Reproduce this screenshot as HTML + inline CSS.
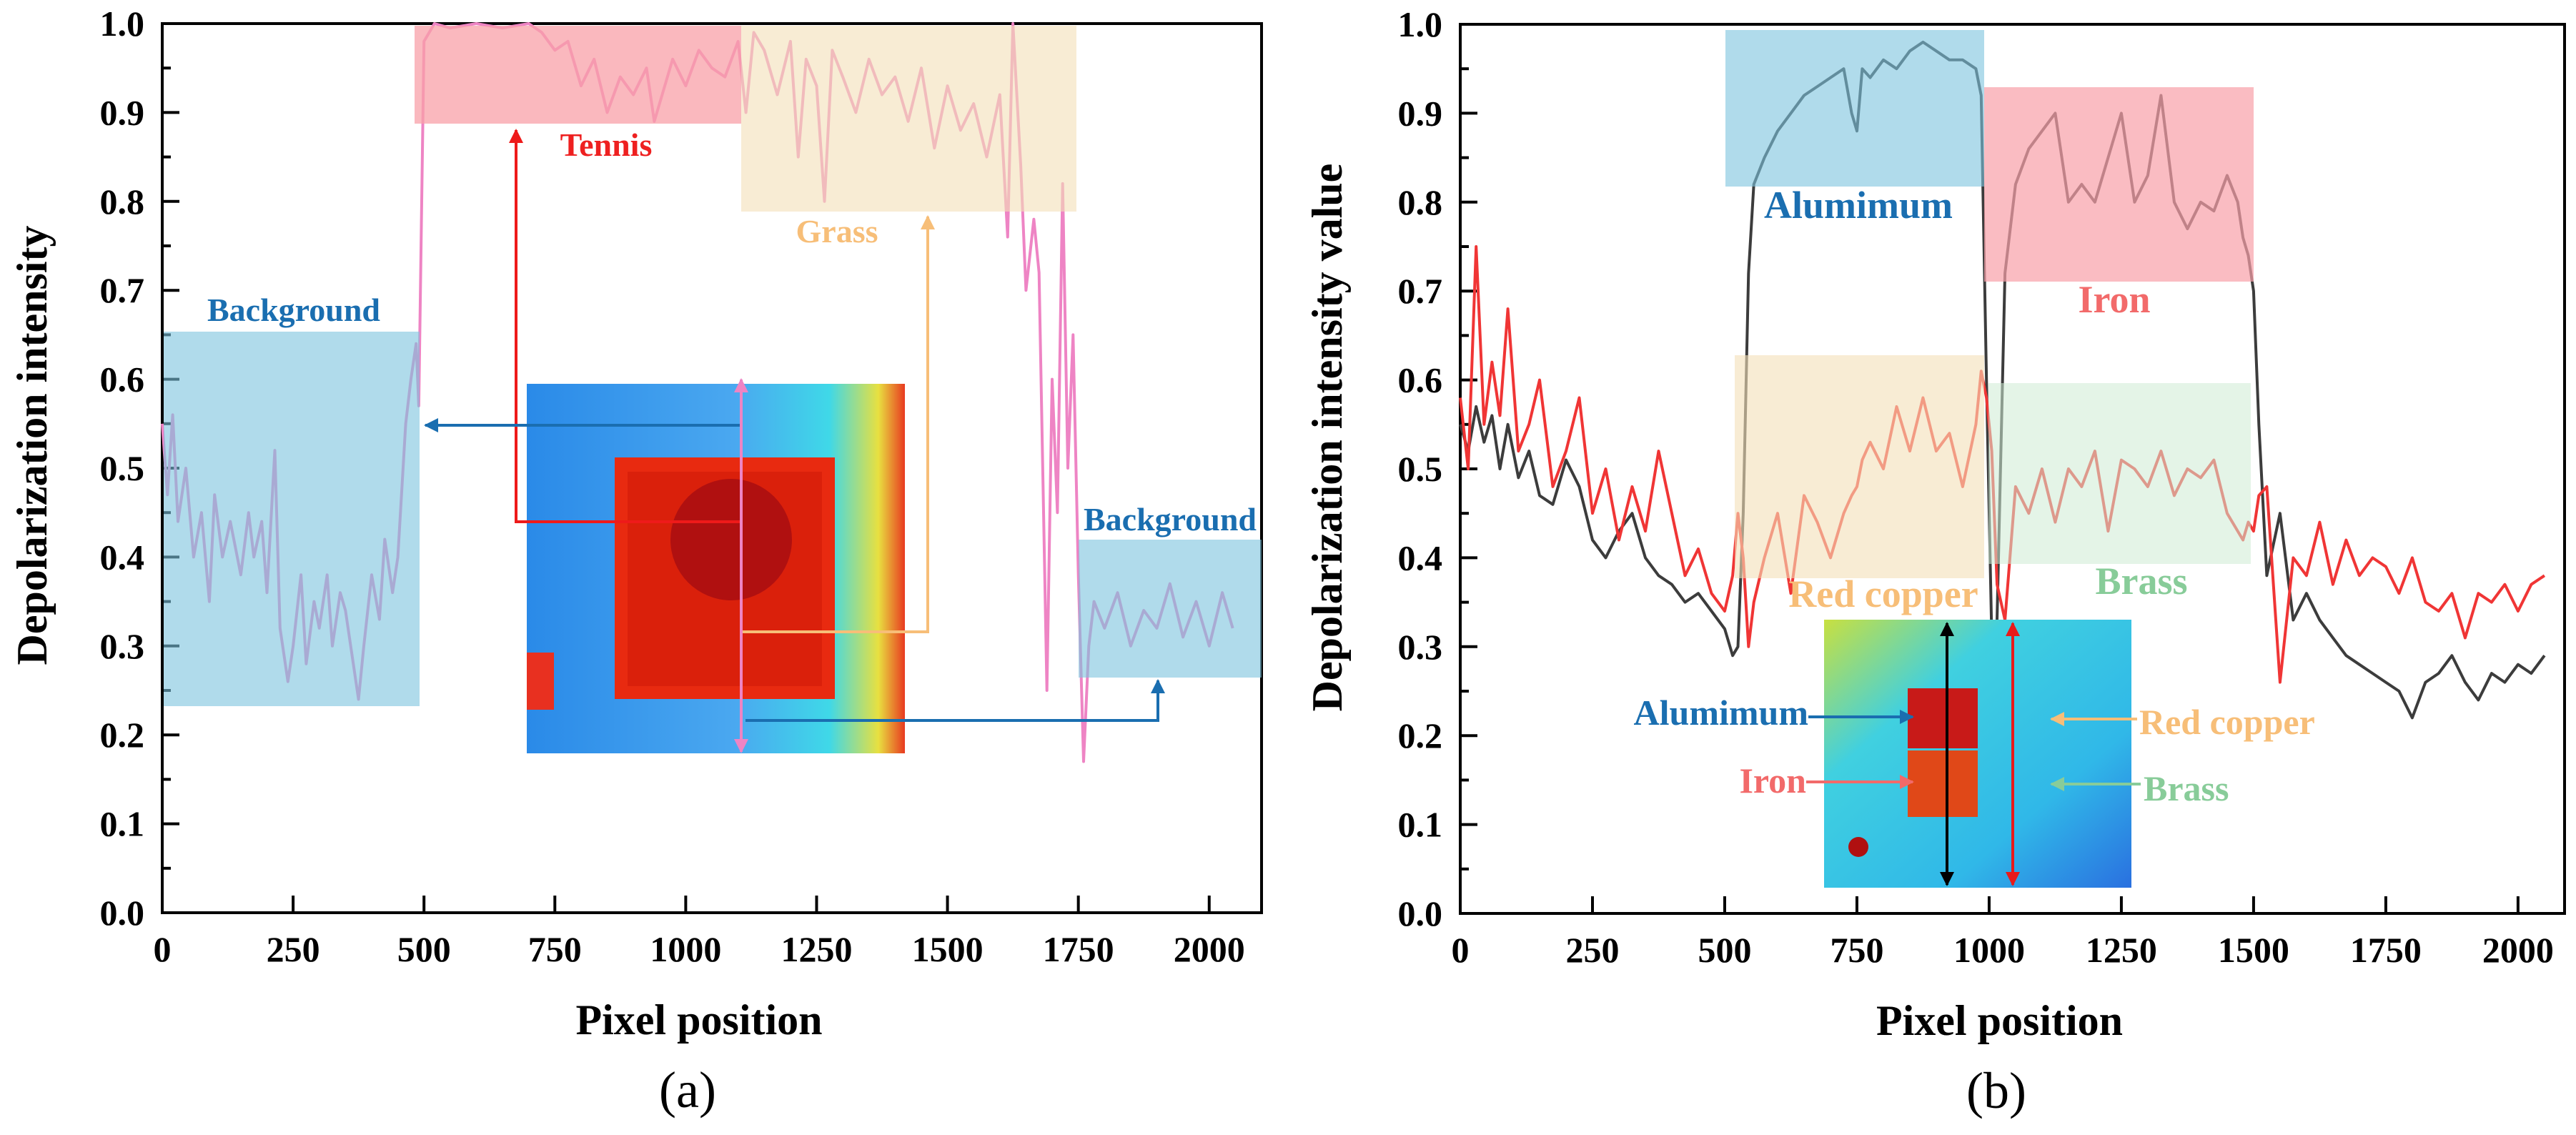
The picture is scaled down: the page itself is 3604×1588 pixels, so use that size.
<!DOCTYPE html>
<html><head><meta charset="utf-8"><style>
html,body{margin:0;padding:0;background:#fff;overflow:hidden;}
svg{display:block;}
text{font-family:"Liberation Serif",serif;}
</style></head><body>
<svg id="fig" width="3604" height="1588" viewBox="0 0 3604 1588" xmlns="http://www.w3.org/2000/svg">
<defs>
<linearGradient id="insA" x1="0" x2="1" y1="0" y2="0">
<stop offset="0" stop-color="#2a8ae8"/><stop offset="0.55" stop-color="#4aa8f0"/><stop offset="0.8" stop-color="#3fd8e8"/><stop offset="0.93" stop-color="#e8e040"/><stop offset="1" stop-color="#e83a20"/>
</linearGradient>
<linearGradient id="insB" x1="0" x2="1" y1="0" y2="1">
<stop offset="0" stop-color="#c8e040"/><stop offset="0.3" stop-color="#40d0e0"/><stop offset="0.7" stop-color="#30b8e8"/><stop offset="1" stop-color="#2a70e0"/>
</linearGradient>
<marker id="ar" viewBox="0 0 10 10" refX="9" refY="5" markerWidth="5" markerHeight="5" orient="auto-start-reverse"><path d="M0,0L10,5L0,10z" fill="context-stroke"/></marker>
</defs>
<g id="pa"></g>
<g id="pb"></g>
</svg>
<script>
// Panel (a) data
const aX = [0,10,20,30,45,60,75,90,100,115,130,150,165,175,190,200,215,225,240,250,265,275,290,300,315,325,340,350,365,375,385,400,415,425,440,450,465,475,485,490,500,520,550,600,650,700,725,750,775,800,825,850,875,900,925,940,960,975,1000,1025,1050,1075,1100,1115,1130,1150,1175,1200,1215,1230,1250,1265,1280,1300,1325,1350,1375,1400,1425,1450,1475,1500,1525,1550,1575,1600,1615,1625,1640,1650,1665,1675,1690,1700,1710,1720,1730,1740,1750,1760,1770,1780,1800,1825,1850,1875,1900,1925,1950,1975,2000,2025,2045];
const aY = [0.55,0.47,0.56,0.44,0.50,0.40,0.45,0.35,0.47,0.40,0.44,0.38,0.45,0.40,0.44,0.36,0.52,0.32,0.26,0.30,0.38,0.28,0.35,0.32,0.38,0.30,0.36,0.34,0.28,0.24,0.30,0.38,0.33,0.42,0.36,0.40,0.55,0.60,0.64,0.57,0.98,1.0,0.995,1.0,0.995,1.0,0.99,0.97,0.98,0.93,0.96,0.90,0.94,0.92,0.95,0.89,0.93,0.96,0.93,0.97,0.95,0.94,0.98,0.90,0.99,0.97,0.92,0.98,0.85,0.96,0.93,0.80,0.97,0.94,0.90,0.96,0.92,0.94,0.89,0.95,0.86,0.93,0.88,0.91,0.85,0.92,0.76,1.0,0.84,0.70,0.78,0.72,0.25,0.60,0.45,0.82,0.50,0.65,0.38,0.17,0.30,0.35,0.32,0.36,0.30,0.34,0.32,0.37,0.31,0.35,0.30,0.36,0.32];
// Panel (b) data
const bX = [0,15,30,45,60,75,90,110,130,150,175,200,225,250,275,300,325,350,375,400,425,450,475,500,515,525,535,545,555,575,600,625,650,675,700,725,740,750,760,775,800,825,850,875,900,925,950,975,985,995,1005,1015,1030,1050,1075,1100,1125,1150,1175,1200,1225,1250,1275,1300,1325,1350,1375,1400,1425,1450,1470,1480,1490,1500,1510,1525,1550,1575,1600,1625,1650,1675,1700,1725,1750,1775,1800,1825,1850,1875,1900,1925,1950,1975,2000,2025,2050];
const blackY = [0.55,0.52,0.57,0.53,0.56,0.50,0.55,0.49,0.52,0.47,0.46,0.51,0.48,0.42,0.40,0.43,0.45,0.40,0.38,0.37,0.35,0.36,0.34,0.32,0.29,0.30,0.45,0.72,0.82,0.85,0.88,0.90,0.92,0.93,0.94,0.95,0.90,0.88,0.95,0.94,0.96,0.95,0.97,0.98,0.97,0.96,0.96,0.95,0.92,0.60,0.31,0.33,0.72,0.82,0.86,0.88,0.90,0.80,0.82,0.80,0.85,0.90,0.80,0.83,0.92,0.80,0.77,0.80,0.79,0.83,0.80,0.76,0.74,0.70,0.55,0.38,0.45,0.33,0.36,0.33,0.31,0.29,0.28,0.27,0.26,0.25,0.22,0.26,0.27,0.29,0.26,0.24,0.27,0.26,0.28,0.27,0.29];
const redY = [0.58,0.50,0.75,0.55,0.62,0.56,0.68,0.52,0.55,0.60,0.48,0.52,0.58,0.45,0.50,0.42,0.48,0.43,0.52,0.45,0.38,0.41,0.36,0.34,0.38,0.45,0.40,0.30,0.35,0.40,0.45,0.36,0.47,0.44,0.40,0.45,0.47,0.48,0.51,0.53,0.50,0.57,0.52,0.58,0.52,0.54,0.48,0.55,0.61,0.58,0.52,0.37,0.33,0.48,0.45,0.50,0.44,0.50,0.48,0.52,0.43,0.51,0.50,0.48,0.52,0.47,0.50,0.49,0.51,0.45,0.43,0.42,0.44,0.43,0.47,0.48,0.26,0.40,0.38,0.44,0.37,0.42,0.38,0.40,0.39,0.36,0.40,0.35,0.34,0.36,0.31,0.36,0.35,0.37,0.34,0.37,0.38];
const xTicks = [0,250,500,750,1000,1250,1500,1750,2000];
const yTicks = [0,0.1,0.2,0.3,0.4,0.5,0.6,0.7,0.8,0.9,1.0];

const NS="http://www.w3.org/2000/svg";
function mk(parent,tag,attrs,text){const e=document.createElementNS(NS,tag);for(const k in attrs)e.setAttribute(k,attrs[k]);if(text!==undefined)e.textContent=text;parent.appendChild(e);return e;}

function axes(g,L,R,T,B,xmax,ylab,cap,ytx,yty,capx){
  const sx=v=>L+(v/xmax)*(R-L), sy=v=>B-v*(B-T);
  xTicks.forEach(v=>{
    const l=mk(g,'line',{x1:sx(v),x2:sx(v),y1:B,y2:B-24,stroke:'#000','stroke-width':4});
    
    
    const tx=mk(g,'text',{x:sx(v),y:B+68,'font-size':50,'font-weight':'bold','text-anchor':'middle'},String(v));
    
    
  });
  for(let i=0;i<10;i++){const v=0.05+i*0.1;
    const l=mk(g,'line',{x1:L,x2:L+12,y1:sy(v),y2:sy(v),stroke:'#000','stroke-width':4});
    
    
  }
  yTicks.forEach(v=>{
    const l=mk(g,'line',{x1:L,x2:L+24,y1:sy(v),y2:sy(v),stroke:'#000','stroke-width':4});
    
    
    const tx=mk(g,'text',{x:L-25,y:sy(v)+17,'font-size':50,'font-weight':'bold','text-anchor':'end'},v.toFixed(1));
    
    
  });
  const fr=mk(g,'rect',{x:L,y:T,width:R-L,height:B-T,fill:'none',stroke:'#000','stroke-width':4});
  
  
  const xt=mk(g,'text',{x:(L+R)/2-18,y:B+170,'font-size':60,'font-weight':'bold','text-anchor':'middle'},'Pixel position');
  
  
  const yt=mk(g,'text',{x:ytx,y:yty,'font-size':60,'font-weight':'bold','text-anchor':'middle','dominant-baseline':'central',transform:`rotate(-90 ${ytx} ${yty})`},ylab);
  
  
  const ct=mk(g,'text',{x:capx,y:B+272,'font-size':72,'text-anchor':'middle'},cap);
  
  
  return {sx,sy};
}
function line(g,xs,ys,sx,sy,color,w,name){
  const d=xs.map((x,i)=>(i?'L':'M')+sx(x).toFixed(1)+','+sy(ys[i]).toFixed(1)).join('');
  const p=mk(g,'path',{d,fill:'none',stroke:color,'stroke-width':w,'stroke-linejoin':'round'});
  
  
}
function box(g,x,y,w,h,fill,op,name){
  const r=mk(g,'rect',{x,y,width:w,height:h,fill,'fill-opacity':op});
  
  
}
function lbl(g,x,y,s,color,size,anchor,name){
  const t=mk(g,'text',{x,y,'font-size':size,'font-weight':'bold',fill:color,'text-anchor':anchor||'middle'},s);
  
  
}
function arrow(g,pts,color,both,name){
  const p=mk(g,'polyline',{points:pts.map(p=>p.join(',')).join(' '),fill:'none',stroke:color,'stroke-width':4,'marker-end':'url(#ar)'});
  if(both)p.setAttribute('marker-start','url(#ar)');
  
  
}

// ---- Panel a
const ga=document.getElementById('pa');
const A=axes(ga,227,1765,33,1277,2100,'Depolarization intensity','(a)',45,623,962);
line(ga,aX,aY,A.sx,A.sy,'#ee84c4',4,'depolarization-line');
box(ga,580,36,457,137,'#f8a0a8',0.75,'tennis-box');
box(ga,1037,36,469,260,'#f3dfb8',0.6,'grass-box');
box(ga,229,464,358,524,'#7cc3dd',0.6,'background-box-left');
box(ga,1509,755,256,193,'#7cc3dd',0.6,'background-box-right');
lbl(ga,848,218,'Tennis','#ee2020',46,'middle','tennis-label');
lbl(ga,1171,339,'Grass','#f7be78',46,'middle','grass-label');
lbl(ga,411,449,'Background','#1a6eb0',46,'middle','background-label-left');
lbl(ga,1637,742,'Background','#1a6eb0',46,'middle','background-label-right');
const ia=mk(ga,'g',{});


mk(ia,'rect',{x:737,y:537,width:529,height:517,fill:'url(#insA)'});
mk(ia,'rect',{x:860,y:640,width:308,height:338,fill:'#e82a10'});
mk(ia,'rect',{x:878,y:660,width:272,height:300,fill:'#d01a08',opacity:0.6});
mk(ia,'circle',{cx:1023,cy:755,r:85,fill:'#b01010'});
mk(ia,'rect',{x:737,y:913,width:38,height:80,fill:'#e83020'});
arrow(ga,[[1037,730],[722,730],[722,182]],'#ee1a1a',false,'tennis-arrow');
arrow(ga,[[1037,595],[595,595]],'#1a6eb0',false,'background-arrow-left');
arrow(ga,[[1037,884],[1298,884],[1298,303]],'#f7be78',false,'grass-arrow');
arrow(ga,[[1043,1008],[1620,1008],[1620,952]],'#1a6eb0',false,'background-arrow-right');
arrow(ga,[[1037,531],[1037,1052]],'#ee84c4',true,'profile-arrow');

// ---- Panel b
const gb=document.getElementById('pb');
const B=axes(gb,2043,3588,34,1278,2088,'Depolarization intensity value','(b)',1857,612,2793);
line(gb,bX,blackY,B.sx,B.sy,'#3c3c3c',4,'black-line');
line(gb,bX,redY,B.sx,B.sy,'#f03535',4,'red-line');
box(gb,2414,42,362,219,'#7cc3dd',0.6,'aluminium-box');
box(gb,2776,122,377,272,'#f8a0a8',0.7,'iron-box');
box(gb,2427,497,349,312,'#f3dfb8',0.6,'red-copper-box');
box(gb,2782,536,367,253,'#cdebd3',0.55,'brass-box');
lbl(gb,2600,305,'Alumimum','#1a6eb0',54,'middle','aluminium-label');
lbl(gb,2958,437,'Iron','#f26a6a',54,'middle','iron-label');
lbl(gb,2635,849,'Red copper','#f7be78',54,'middle','red-copper-label');
lbl(gb,2996,831,'Brass','#88cc99',54,'middle','brass-label');
const ib=mk(gb,'g',{});


mk(ib,'rect',{x:2552,y:867,width:430,height:375,fill:'url(#insB)'});
mk(ib,'rect',{x:2669,y:963,width:98,height:84,fill:'#c81a18'});
mk(ib,'rect',{x:2669,y:1050,width:98,height:93,fill:'#e04818'});
mk(ib,'circle',{cx:2600,cy:1185,r:14,fill:'#b01010'});
arrow(gb,[[2724,872],[2724,1238]],'#000',true,'aluminium-profile-arrow');
arrow(gb,[[2816,872],[2816,1238]],'#e81a1a',true,'iron-profile-arrow');
lbl(gb,2530,1014,'Alumimum','#1a6eb0',50,'end','aluminium-inset-label');
lbl(gb,2527,1109,'Iron','#f26a6a',50,'end','iron-inset-label');
lbl(gb,2993,1027,'Red copper','#f7be78',50,'start','red-copper-inset-label');
lbl(gb,2999,1120,'Brass','#88cc99',50,'start','brass-inset-label');
arrow(gb,[[2530,1003],[2676,1003]],'#1a6eb0',false,'aluminium-inset-arrow');
arrow(gb,[[2527,1094],[2676,1094]],'#f26a6a',false,'iron-inset-arrow');
arrow(gb,[[2990,1006],[2870,1006]],'#f7be78',false,'red-copper-inset-arrow');
arrow(gb,[[2995,1097],[2870,1097]],'#88cc99',false,'brass-inset-arrow');
</script>
</body></html>
